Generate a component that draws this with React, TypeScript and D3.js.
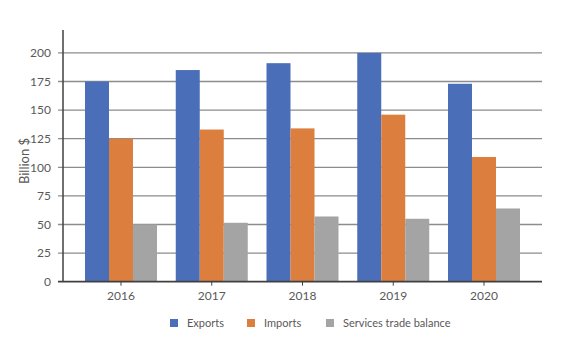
import { useRef, useEffect } from "react";
import * as d3 from "d3";

const YEARS = ["2016", "2017", "2018", "2019", "2020"];
const SERIES = ["Exports", "Imports", "Services trade balance"];
const EXPORTS = [175, 185, 191, 200, 173];
const IMPORTS = [125, 133, 134, 146, 109];
const BALANCE = [50, 51.5, 57, 55, 64];
const Y_TICKS = [0, 25, 50, 75, 100, 125, 150, 175, 200];

const COLORS = ["#4A6FB8", "#DC7F3E", "#A4A4A4"];
const FONT = "Lato, 'Liberation Sans', sans-serif";

export default function App() {
  const svgRef = useRef<SVGSVGElement>(null);

  useEffect(() => {
    if (!svgRef.current) return;
    const svg = d3.select(svgRef.current);
    svg.selectAll("*").remove();

    const W = 561, H = 360;
    const left = 63, right = 542, top = 30, bottom = 281.7;
    svg.attr("width", W).attr("height", H);

    const y = d3.scaleLinear().domain([0, 220]).range([bottom, top]);
    const x0 = d3.scaleBand().domain(YEARS).range([left, right])
      .paddingInner(0.2066).paddingOuter(0.2424);
    const x1 = d3.scaleBand().domain(SERIES).range([0, x0.bandwidth()]);

    const values = [EXPORTS, IMPORTS, BALANCE];

    // gridlines
    svg.append("g").selectAll("line")
      .data(Y_TICKS.filter((t) => t > 0))
      .enter().append("line")
      .attr("x1", left - 5).attr("x2", right)
      .attr("y1", (d) => y(d)).attr("y2", (d) => y(d))
      .attr("stroke", "#8c8c8c").attr("stroke-width", 1.3);

    // bars
    SERIES.forEach((s, si) => {
      svg.append("g").selectAll("rect")
        .data(YEARS)
        .enter().append("rect")
        .attr("x", (d) => (x0(d) ?? 0) + (x1(s) ?? 0))
        .attr("width", x1.bandwidth())
        .attr("y", (_, i) => y(values[si][i]))
        .attr("height", (_, i) => bottom - y(values[si][i]))
        .attr("fill", COLORS[si]);
    });

    // y axis
    const yAxis = d3.axisLeft(y).tickValues(Y_TICKS).tickSize(5);
    const ya = svg.append("g").attr("transform", `translate(${left},0)`).call(yAxis);
    ya.select(".domain").remove();
    ya.selectAll(".tick line").remove();
    ya.selectAll("text").style("font-family", FONT).style("font-size", "12px").attr("fill", "#595959")
      .attr("x", -12);
    svg.append("line").attr("x1", left).attr("x2", left).attr("y1", top).attr("y2", bottom)
      .attr("stroke", "#404040").attr("stroke-width", 1.5);

    // x axis
    const xAxis = d3.axisBottom(x0).tickSize(4).tickPadding(6);
    const xa = svg.append("g").attr("transform", `translate(0,${bottom})`).call(xAxis);
    xa.select(".domain").remove();
    xa.selectAll(".tick line").attr("stroke", "#404040");
    xa.selectAll("text").style("font-family", FONT).style("font-size", "12px").attr("fill", "#595959");
    svg.append("line").attr("x1", left - 5).attr("x2", right).attr("y1", bottom).attr("y2", bottom)
      .attr("stroke", "#404040").attr("stroke-width", 1.8);

    // y title
    svg.append("text")
      .attr("transform", `translate(29,161) rotate(-90)`)
      .attr("text-anchor", "middle")
      .style("font-family", FONT).style("font-size", "13px").attr("fill", "#595959")
      .text("Billion $");

    // legend
    const legendX = [170, 247, 326];
    const lg = svg.append("g");
    SERIES.forEach((s, i) => {
      lg.append("rect").attr("x", legendX[i]).attr("y", 319).attr("width", 8).attr("height", 8)
        .attr("fill", COLORS[i]);
      lg.append("text").attr("x", legendX[i] + 17).attr("y", 327)
        .style("font-family", FONT).style("font-size", "11px").attr("fill", "#595959")
        .text(s);
    });

    return () => {
      svg.selectAll("*").remove();
    };
  }, []);

  return (
    <div style={{ position: "absolute", left: 0, top: 0, background: "#fff" }}>
      <svg ref={svgRef} style={{ display: "block" }} />
    </div>
  );
}
